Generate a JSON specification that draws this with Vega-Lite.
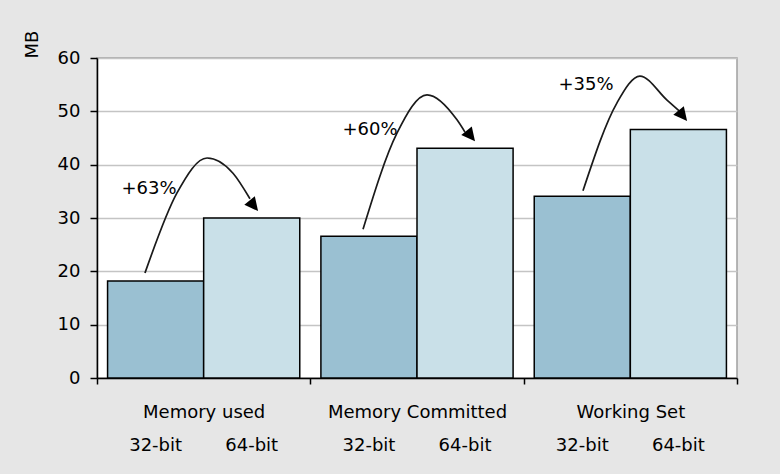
{
  "$schema": "https://vega.github.io/schema/vega-lite/v6.json",
  "width": 640,
  "height": 320,
  "autosize": {"type": "none"},
  "padding": {"left": 97, "top": 58, "right": 43, "bottom": 96},
  "background": "#e6e6e6",
  "config": {
    "font": "DejaVu Sans",
    "view": {"fill": "white", "stroke": "#a0a0a0", "strokeWidth": 1.5},
    "axis": {"labelFont": "DejaVu Sans", "titleFont": "DejaVu Sans", "labelColor": "#000", "titleColor": "#000", "labelFontSize": 18, "titleFontSize": 18, "titleFontWeight": "normal", "domainColor": "#000", "domainWidth": 1.5, "tickColor": "#000", "tickWidth": 1.5}
  },
  "datasets": {
    "bars": [
      {"group": "Memory used", "bit": "32-bit", "mb": 18.2},
      {"group": "Memory used", "bit": "64-bit", "mb": 30.0},
      {"group": "Memory Committed", "bit": "32-bit", "mb": 26.6},
      {"group": "Memory Committed", "bit": "64-bit", "mb": 43.1},
      {"group": "Working Set", "bit": "32-bit", "mb": 34.1},
      {"group": "Working Set", "bit": "64-bit", "mb": 46.6}
    ],
    "arrows": [
      {"arrow": "a1", "ax": 0.225, "mb": 19.7},
      {"arrow": "a1", "ax": 0.375, "mb": 34.7},
      {"arrow": "a1", "ax": 0.516, "mb": 41.25},
      {"arrow": "a1", "ax": 0.6375, "mb": 38.4},
      {"arrow": "a1", "ax": 0.717, "mb": 33.6},
      {"arrow": "a2", "ax": 1.247, "mb": 27.9},
      {"arrow": "a2", "ax": 1.406, "mb": 45.9},
      {"arrow": "a2", "ax": 1.547, "mb": 53.1},
      {"arrow": "a2", "ax": 1.6875, "mb": 48.4},
      {"arrow": "a2", "ax": 1.725, "mb": 46.1},
      {"arrow": "a3", "ax": 2.278, "mb": 35.1},
      {"arrow": "a3", "ax": 2.4375, "mb": 51.6},
      {"arrow": "a3", "ax": 2.545, "mb": 56.6},
      {"arrow": "a3", "ax": 2.672, "mb": 52.1},
      {"arrow": "a3", "ax": 2.728, "mb": 50.1}
    ],
    "tips": [
      {"arrow": "a1", "ax": 0.755, "mb": 31.3},
      {"arrow": "a2", "ax": 1.772, "mb": 44.4},
      {"arrow": "a3", "ax": 2.766, "mb": 48.2}
    ],
    "pct": [
      {"label": "+63%", "ax": 0.244, "mb": 35.4},
      {"label": "+60%", "ax": 1.280, "mb": 46.5},
      {"label": "+35%", "ax": 2.292, "mb": 54.9}
    ]
  },
  "layer": [
    {
      "layer": [
        {
          "data": {"name": "bars"},
          "mark": {"type": "bar", "stroke": "#000", "strokeWidth": 1.5},
          "encoding": {
            "x": {"field": "group", "type": "nominal", "sort": ["Memory used", "Memory Committed", "Working Set"],
                  "scale": {"paddingInner": 0, "paddingOuter": 0},
                  "axis": {"title": null, "labelAngle": 0, "tickBand": "extent", "tickSize": 6, "labelPadding": 19, "grid": false}},
            "xOffset": {"field": "bit", "type": "nominal", "scale": {"paddingInner": 0, "paddingOuter": 0.11}},
            "y": {"field": "mb", "type": "quantitative",
                  "scale": {"domain": [0, 60], "nice": false},
                  "axis": {"title": "MB", "values": [0, 10, 20, 30, 40, 50, 60], "tickSize": 7, "labelPadding": 10,
                           "gridColor": "#c4c4c4", "gridWidth": 1.5,
                           "titleAngle": -90, "titleX": -65, "titleY": -14, "titleAlign": "center", "titleBaseline": "middle"}},
            "color": {"field": "bit", "type": "nominal", "scale": {"domain": ["32-bit", "64-bit"], "range": ["#9ac0d2", "#c9e0e8"]}, "legend": null}
          }
        },
        {
          "data": {"name": "bars"},
          "mark": {"type": "text", "baseline": "alphabetic", "align": "center", "dy": 73, "fontSize": 18, "color": "#000"},
          "encoding": {
            "x": {"field": "group", "type": "nominal", "sort": ["Memory used", "Memory Committed", "Working Set"]},
            "xOffset": {"field": "bit", "type": "nominal"},
            "y": {"datum": 0, "type": "quantitative"},
            "text": {"field": "bit"}
          }
        }
      ]
    },
    {
      "layer": [
        {
          "data": {"name": "arrows"},
          "mark": {"type": "line", "interpolate": "monotone", "color": "#1a1a1a", "strokeWidth": 1.7},
          "encoding": {
            "x": {"field": "ax", "type": "quantitative", "scale": {"domain": [0, 3], "nice": false, "zero": false}, "axis": null},
            "y": {"field": "mb", "type": "quantitative"},
            "detail": {"field": "arrow"}
          }
        },
        {
          "data": {"name": "tips"},
          "mark": {"type": "point", "filled": true, "color": "#000", "opacity": 1, "shape": "M0,0L-0.45,0.9L0.45,0.9Z", "size": 900, "angle": 141, "strokeWidth": 0},
          "encoding": {
            "x": {"field": "ax", "type": "quantitative"},
            "y": {"field": "mb", "type": "quantitative"}
          }
        },
        {
          "data": {"name": "pct"},
          "mark": {"type": "text", "baseline": "middle", "align": "center", "fontSize": 18, "color": "#000"},
          "encoding": {
            "x": {"field": "ax", "type": "quantitative"},
            "y": {"field": "mb", "type": "quantitative"},
            "text": {"field": "label"}
          }
        }
      ]
    }
  ],
  "resolve": {"scale": {"x": "independent"}}
}
